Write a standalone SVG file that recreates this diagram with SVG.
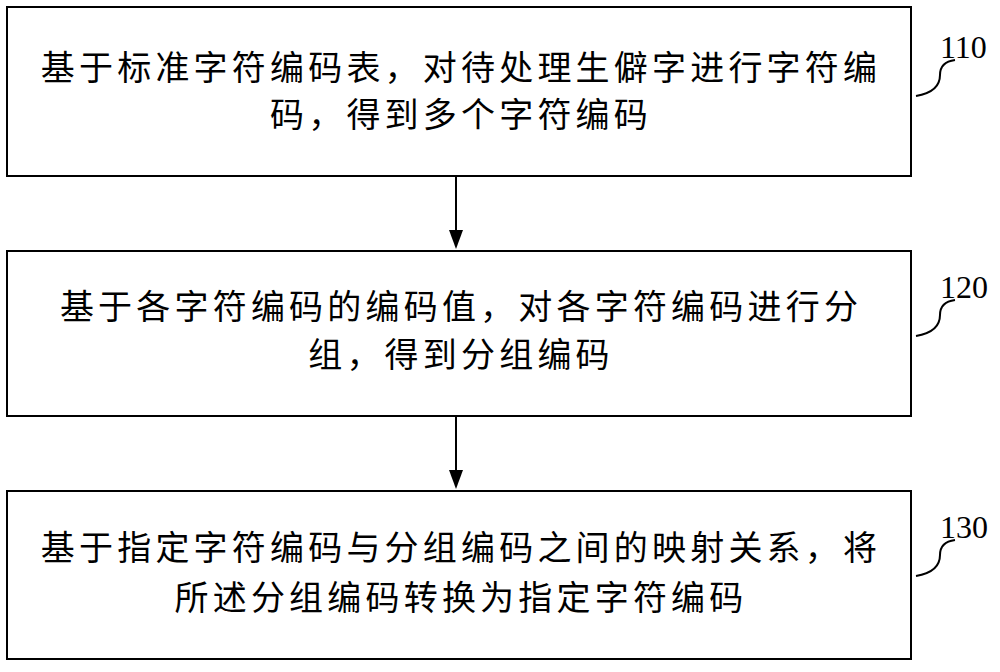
<svg xmlns="http://www.w3.org/2000/svg" width="1000" height="672" viewBox="0 0 1000 672">
<defs>
<style>
.box{fill:#fff;stroke:#000;stroke-width:2}
.t{font-family:"Liberation Serif","Noto Sans CJK SC",serif;font-size:34px;letter-spacing:4.2px;text-anchor:middle;fill:#000}
.n{font-family:"Liberation Serif",serif;font-size:32px;fill:#000}
.c{fill:none;stroke:#000;stroke-width:2}
</style>
</defs>
<rect width="1000" height="672" fill="#fff"/>
<g id="n110"><rect class="box" x="7" y="7" width="904" height="169"/>
<text class="t" x="461" y="80">基于标准字符编码表，对待处理生僻字进行字符编</text>
<text class="t" x="461" y="127">码，得到多个字符编码</text>
<path class="c" d="M916,96 Q940,92 940,75 Q940,62 955,60"/><text class="n" x="940" y="58">110</text></g>
<g id="n120"><rect class="box" x="7" y="251" width="904" height="165"/>
<text class="t" x="461" y="319">基于各字符编码的编码值，对各字符编码进行分</text>
<text class="t" x="461" y="367">组，得到分组编码</text>
<path class="c" d="M916,336 Q940,332 940,315 Q940,302 955,300"/><text class="n" x="940" y="298">120</text></g>
<g id="n130"><rect class="box" x="7" y="491" width="904" height="168"/>
<text class="t" x="461" y="560">基于指定字符编码与分组编码之间的映射关系，将</text>
<text class="t" x="461" y="610">所述分组编码转换为指定字符编码</text>
<path class="c" d="M916,576 Q940,572 940,555 Q940,542 955,540"/><text class="n" x="940" y="538">130</text></g>
<g id="connectors">
<line x1="456" y1="176" x2="456" y2="232" stroke="#000" stroke-width="2"/><path d="M449,230 L463,230 L456,249 Z"/>
<line x1="456" y1="416" x2="456" y2="472" stroke="#000" stroke-width="2"/><path d="M449,470 L463,470 L456,489 Z"/>
</g>
</svg>
